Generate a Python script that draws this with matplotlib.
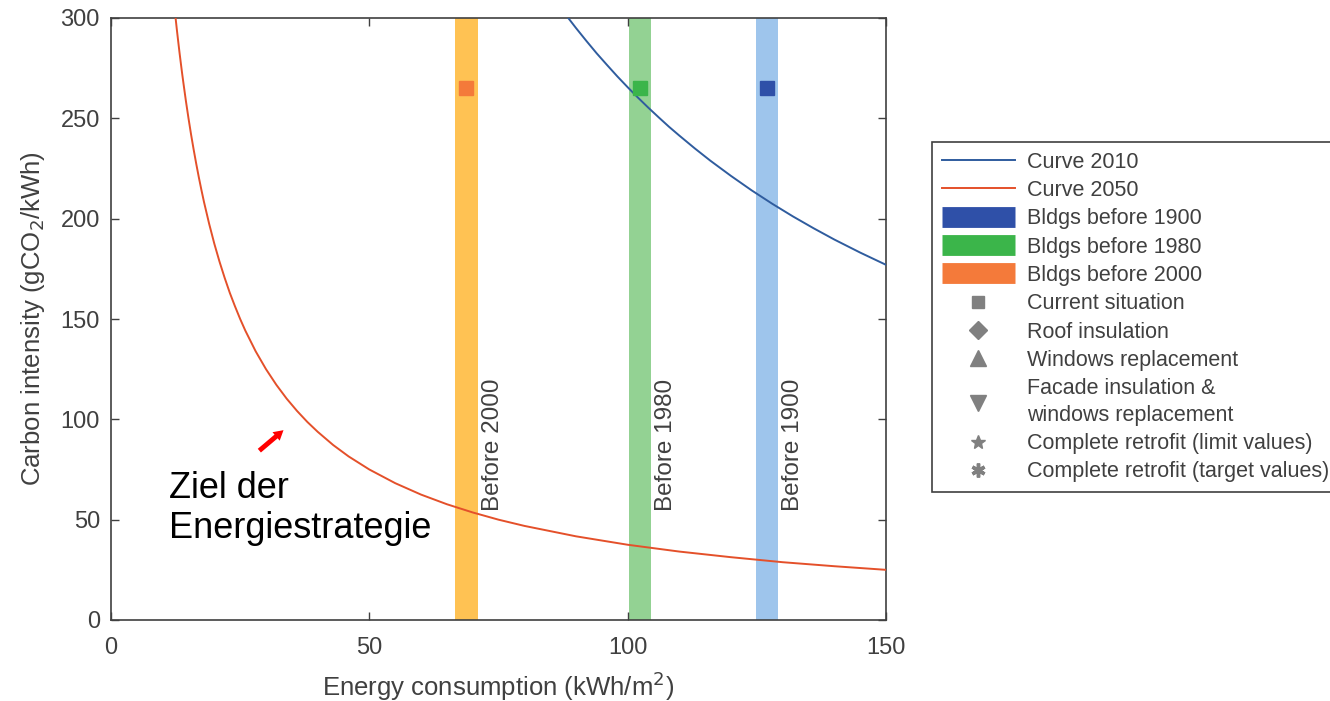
import matplotlib
matplotlib.use("Agg")
import matplotlib.pyplot as plt
from matplotlib.lines import Line2D

plt.rcParams['font.family'] = ['Liberation Sans', 'DejaVu Sans']

# curve values
x_2050 = [12.5, 12.75, 13, 13.25, 13.5, 13.75, 14, 14.5, 15, 15.5, 16, 16.5, 17, 17.5, 18,
          19, 20, 21, 22, 23, 24, 25, 26, 28, 30, 32, 34, 36, 38, 40, 43, 46, 50, 55, 60,
          65, 70, 75, 80, 90, 100, 110, 120, 130, 140, 150]
y_2050 = [300, 294.1, 288.5, 283.0, 277.8, 272.7, 267.9, 258.6, 250, 241.9, 234.4, 227.3,
          220.6, 214.3, 208.3, 197.4, 187.5, 178.6, 170.5, 163.0, 156.3, 150, 144.2, 133.9,
          125, 117.2, 110.3, 104.2, 98.7, 93.8, 87.2, 81.5, 75, 68.2, 62.5, 57.7, 53.6, 50,
          46.9, 41.7, 37.5, 34.1, 31.3, 28.8, 26.8, 25]
x_2010 = [88.5, 90, 92, 94, 96, 98, 100, 102, 104, 106, 108, 110, 113, 116, 120, 124, 128,
          132, 136, 140, 145, 150]
y_2010 = [300, 295, 288.6, 282.4, 276.6, 270.9, 265.5, 260.3, 255.3, 250.5, 245.8, 241.4,
          235.0, 228.9, 221.3, 214.1, 207.4, 201.1, 195.2, 189.6, 183.1, 177]

# building categories
bldg_names = ['Before 2000', 'Before 1980', 'Before 1900']
bldg_x = [68.8, 102.4, 126.9]
bldg_now = [265, 265, 265]
band_colors = ['#FFC253', '#93D293', '#9EC5EC']
mark_colors = ['#F47A3A', '#3BB54A', '#2F50A8']

gray = '#404040'

fig = plt.figure(figsize=(13.3, 7.01), dpi=100)
ax = fig.add_axes([111/1330, 81/701, 775/1330, 602/701])

for xc, bc in zip(bldg_x, band_colors):
    ax.axvspan(xc - 2.15, xc + 2.15, color=bc, lw=0, zorder=1)

ax.plot(x_2010, y_2010, color='#2F5C9E', lw=1.4, zorder=3)
ax.plot(x_2050, y_2050, color='#E4502A', lw=1.4, zorder=3)

for xc, yc, mc in zip(bldg_x, bldg_now, mark_colors):
    ax.plot(xc, yc, 's', ms=10, color=mc, zorder=4)

for xc, name in zip(bldg_x, bldg_names):
    ax.text(xc + 5.1, 54.5, name, rotation=90, ha='center', va='bottom',
            fontsize=17.5, color=gray, zorder=5)

ax.annotate('', xy=(33.8, 95.5), xytext=(28.3, 83.5),
            arrowprops=dict(arrowstyle='simple,head_length=0.7,head_width=0.8,tail_width=0.35',
                            color='red', lw=0))
ax.text(11.3, 55.5, 'Ziel der\nEnergiestrategie', fontsize=26, color='black',
        ha='left', va='center', linespacing=1.2)

ax.set_xlim(0, 150)
ax.set_ylim(0, 300)
ax.set_xticks([0, 50, 100, 150])
ax.set_yticks(range(0, 301, 50))
ax.tick_params(direction='in', length=6, top=True, right=True, colors=gray,
               labelsize=17, width=1)
ax.tick_params(axis='x', pad=12)
ax.tick_params(axis='y', pad=8)
for s in ax.spines.values():
    s.set_color(gray)
    s.set_linewidth(1.2)
ax.set_xlabel('Energy consumption (kWh/m$^2$)', fontsize=18.5, color=gray, labelpad=8)
ax.set_ylabel('Carbon intensity (gCO$_2$/kWh)', fontsize=18.5, color=gray, labelpad=10)

mgray = '#808080'
handles = [
    Line2D([], [], color='#2F5C9E', lw=1.4),
    Line2D([], [], color='#E4502A', lw=1.4),
    Line2D([], [], color=mark_colors[2], lw=15, solid_capstyle='butt'),
    Line2D([], [], color=mark_colors[1], lw=15, solid_capstyle='butt'),
    Line2D([], [], color=mark_colors[0], lw=15, solid_capstyle='butt'),
    Line2D([], [], ls='none', marker='s', ms=8, color=mgray),
    Line2D([], [], ls='none', marker='D', ms=9, color=mgray),
    Line2D([], [], ls='none', marker='^', ms=11, color=mgray),
    Line2D([], [], ls='none', marker='v', ms=11, color=mgray),
    Line2D([], [], ls='none', marker='*', ms=10, color=mgray),
    Line2D([], [], ls='none', marker=(6, 2, 0), ms=10, color=mgray, mew=2.5),
]
labels = ['Curve 2010', 'Curve 2050', 'Bldgs before 1900', 'Bldgs before 1980',
          'Bldgs before 2000', 'Current situation', 'Roof insulation',
          'Windows replacement', 'Facade insulation &\nwindows replacement',
          'Complete retrofit (limit values)', 'Complete retrofit (target values)']
leg = fig.legend(handles, labels, loc='upper left', bbox_to_anchor=(932/1330, 1 - 142/701),
                 bbox_transform=fig.transFigure, borderaxespad=0, fontsize=15.5,
                 handlelength=3.4, handletextpad=0.55, labelspacing=0.34, borderpad=0.45,
                 fancybox=False, edgecolor=gray, framealpha=1)
leg.get_frame().set_linewidth(1.2)
for t in leg.get_texts():
    t.set_color(gray)
    t.set_linespacing(1.35)

fig.savefig('out.png', dpi=100)
